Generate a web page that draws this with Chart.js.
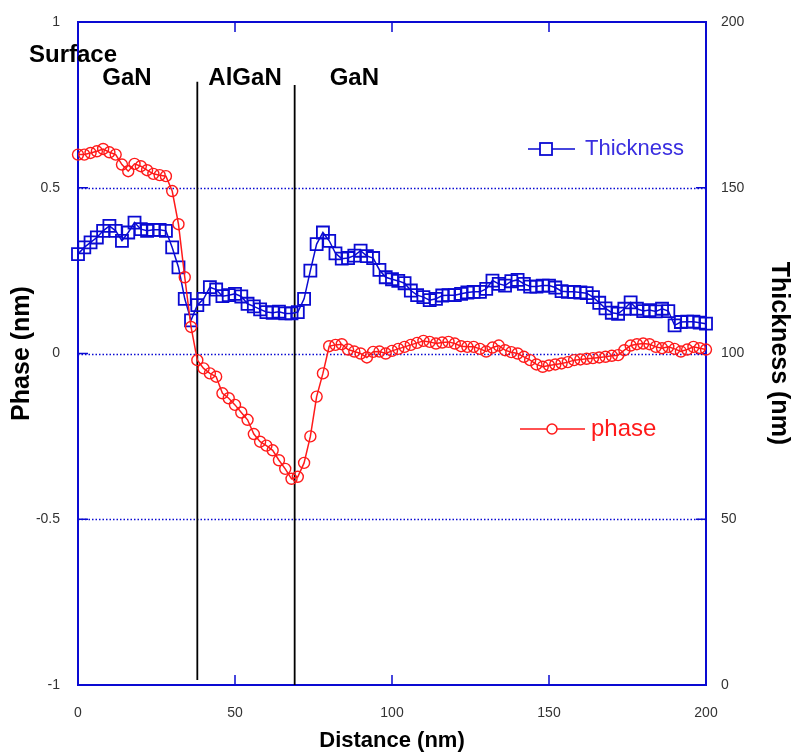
<!DOCTYPE html>
<html>
<head>
<meta charset="utf-8">
<script src="https://cdn.jsdelivr.net/npm/chart.js@4.4.1/dist/chart.umd.min.js"></script>
<style>
  body { margin: 0; background: #fff; }
  canvas { display: block; }
</style>
</head>
<body>
<canvas id="profile" width="794" height="755"></canvas>
<script>
// distance along the profile (nm)
const distance = [
  0, 2, 4, 6, 8, 10, 12, 14, 16, 18, 20, 22, 24, 26, 28, 30, 32, 34, 36, 38,
  40, 42, 44, 46, 48, 50, 52, 54, 56, 58, 60, 62, 64, 66, 68, 70, 72, 74, 76, 78,
  80, 82, 84, 86, 88, 90, 92, 94, 96, 98, 100, 102, 104, 106, 108, 110, 112, 114, 116, 118,
  120, 122, 124, 126, 128, 130, 132, 134, 136, 138, 140, 142, 144, 146, 148, 150, 152, 154, 156, 158,
  160, 162, 164, 166, 168, 170, 172, 174, 176, 178, 180, 182, 184, 186, 188, 190, 192, 194, 196, 198, 200
];

// thickness (nm), right axis
const thickness = [
  130, 132, 133.5, 135, 137, 138.5, 137, 134, 136.5, 139.5, 137.5, 137, 137.3, 137.3, 137, 132, 126, 116.5, 110, 114.6,
  116.5, 120, 119.3, 117.3, 117.6, 118, 117.2, 115, 114.2, 113.3, 112.5, 112.3, 112.6, 112.1, 112.1, 112.5, 116.5, 125, 133, 136.5,
  134, 130.2, 128.6, 128.8, 129.5, 131, 129.4, 128.8, 125.2, 123, 122.4, 121.9, 121.2, 119, 117.6, 117, 116.1, 116.5, 117.5, 117.6,
  117.6, 118, 118.4, 118.6, 118.6, 119.5, 122, 121, 120.5, 121.8, 122.2, 121, 120.2, 120.2, 120.5, 120.5, 119.9, 118.8, 118.6, 118.6,
  118.4, 118.2, 117, 115.3, 113.6, 112.3, 112, 113.5, 115.4, 113.5, 112.8, 113.1, 112.7, 113.5, 112.8, 108.5, 109.5, 109.6, 109.6, 109.3, 109
];

// phase (nm), left axis
const phase = [
  0.60, 0.60, 0.605, 0.61, 0.617, 0.607, 0.60, 0.57, 0.55, 0.572, 0.565, 0.553, 0.542, 0.538, 0.535, 0.49, 0.39, 0.23, 0.08, -0.02,
  -0.045, -0.06, -0.07, -0.12, -0.135, -0.155, -0.178, -0.2, -0.243, -0.266, -0.278, -0.292, -0.322, -0.348, -0.378, -0.372, -0.33, -0.25, -0.13, -0.06,
  0.022, 0.026, 0.028, 0.012, 0.006, 0.0, -0.012, 0.005, 0.006, 0.0, 0.008, 0.014, 0.02, 0.026, 0.032, 0.038, 0.035, 0.03, 0.033, 0.035,
  0.03, 0.022, 0.02, 0.02, 0.014, 0.006, 0.018, 0.024, 0.01, 0.004, 0.0, -0.01, -0.02, -0.033, -0.04, -0.036, -0.033, -0.03, -0.026, -0.02,
  -0.018, -0.016, -0.014, -0.012, -0.01, -0.007, -0.005, 0.01, 0.024, 0.028, 0.03, 0.028, 0.02, 0.016, 0.02, 0.014, 0.006, 0.012, 0.02, 0.016, 0.012
];

// layer boundaries (nm) and the phase range each line spans
const boundaryX = [38, 69];
const boundaryTop = [0.82, 0.81];
const boundaryBottom = [-0.985, -1];

const layerNames = ['GaN', 'AlGaN', 'GaN'];
const layerCenters = [15.6, 53.2, 88];

const BLUE = '#0a0ad2';
const RED = '#ff1a1a';
const TICK_FONT = { family: "'Liberation Sans', Arial, sans-serif", size: 14 };
const TITLE_FAMILY = "'Liberation Sans', Arial, sans-serif";

function pairs(xs, ys) {
  return xs.map((x, i) => ({ x: x, y: ys[i] }));
}

const boundarySets = boundaryX.map((bx, i) => ({
  label: 'boundary' + i,
  data: [{ x: bx, y: boundaryTop[i] }, { x: bx, y: boundaryBottom[i] }],
  yAxisID: 'yP',
  borderColor: '#000',
  borderWidth: 1.8,
  pointRadius: 0,
  order: 3
}));

const decor = {
  id: 'decor',
  beforeDatasetsDraw(chart) {
    const { ctx, chartArea: a, scales } = chart;
    ctx.save();
    // dotted reference lines at the inner phase ticks
    ctx.strokeStyle = BLUE;
    ctx.lineWidth = 1.3;
    ctx.setLineDash([1.5, 2]);
    ctx.beginPath();
    [-0.5, 0, 0.5].forEach(v => {
      const py = Math.round(scales.yP.getPixelForValue(v)) + 0.5;
      ctx.moveTo(a.left, py); ctx.lineTo(a.right, py);
    });
    ctx.stroke();
    ctx.setLineDash([]);

    ctx.lineWidth = 1.5;
    ctx.beginPath();
    [50, 100, 150].forEach(v => {
      const px = scales.x.getPixelForValue(v);
      ctx.moveTo(px, a.bottom); ctx.lineTo(px, a.bottom - 10);
      ctx.moveTo(px, a.top); ctx.lineTo(px, a.top + 10);
    });
    [-0.5, 0, 0.5].forEach(v => {
      const py = scales.yP.getPixelForValue(v);
      ctx.moveTo(a.left, py); ctx.lineTo(a.left + 10, py);
      ctx.moveTo(a.right, py); ctx.lineTo(a.right - 10, py);
    });
    ctx.stroke();
    ctx.lineWidth = 2;
    ctx.strokeRect(a.left, a.top, a.right - a.left, a.bottom - a.top);
    ctx.restore();
  },
  afterDatasetsDraw(chart) {
    const { ctx, scales } = chart;
    ctx.save();
    ctx.fillStyle = '#000';
    ctx.textAlign = 'center';
    ctx.textBaseline = 'middle';
    ctx.font = 'bold 24px ' + TITLE_FAMILY;
    ctx.fillText('Surface', 73, 55);
    const ly = scales.yP.getPixelForValue(0.83);
    layerNames.forEach((name, i) => {
      ctx.fillText(name, scales.x.getPixelForValue(layerCenters[i]), ly);
    });

    // legend entries
    ctx.lineWidth = 1.5;
    ctx.strokeStyle = BLUE;
    ctx.beginPath();
    ctx.moveTo(528, 149); ctx.lineTo(540, 149);
    ctx.moveTo(552, 149); ctx.lineTo(575, 149);
    ctx.stroke();
    ctx.lineWidth = 1.8;
    ctx.strokeRect(540, 143, 12, 12);
    ctx.fillStyle = '#3a2ee0';
    ctx.textAlign = 'left';
    ctx.font = '22px ' + TITLE_FAMILY;
    ctx.fillText('Thickness', 585, 149);

    ctx.strokeStyle = RED;
    ctx.lineWidth = 1.5;
    ctx.beginPath();
    ctx.moveTo(520, 429); ctx.lineTo(547, 429);
    ctx.moveTo(557, 429); ctx.lineTo(585, 429);
    ctx.stroke();
    ctx.beginPath();
    ctx.arc(552, 429, 5, 0, Math.PI * 2);
    ctx.stroke();
    ctx.fillStyle = RED;
    ctx.font = '24px ' + TITLE_FAMILY;
    ctx.fillText('phase', 591, 429);
    ctx.restore();
  }
};

function fitY(width) {
  return scale => {
    scale.width = width;
    scale.paddingTop = 0;
    scale.paddingBottom = 0;
  };
}

new Chart(document.getElementById('profile'), {
  type: 'line',
  data: {
    datasets: [
      {
        label: 'phase',
        data: pairs(distance, phase),
        yAxisID: 'yP',
        borderColor: RED,
        borderWidth: 1.5,
        pointStyle: 'circle',
        pointRadius: 5.5,
        pointBorderWidth: 1.4,
        pointBorderColor: RED,
        pointBackgroundColor: 'rgba(0,0,0,0)',
        clip: false,
        order: 1
      },
      {
        label: 'Thickness',
        data: pairs(distance, thickness),
        yAxisID: 'yT',
        borderColor: BLUE,
        borderWidth: 1.5,
        pointStyle: 'rect',
        pointRadius: 8.5,
        pointBorderWidth: 1.8,
        pointBorderColor: BLUE,
        pointBackgroundColor: 'rgba(0,0,0,0)',
        clip: false,
        order: 2
      },
      ...boundarySets
    ]
  },
  options: {
    responsive: false,
    animation: false,
    layout: { padding: { top: 22 } },
    plugins: {
      legend: { display: false },
      tooltip: { enabled: false }
    },
    scales: {
      x: {
        type: 'linear',
        min: 0,
        max: 200,
        ticks: { stepSize: 50, font: TICK_FONT, color: '#333', padding: 20 },
        grid: { display: false, drawTicks: false },
        border: { display: false },
        title: {
          display: true,
          text: 'Distance (nm)',
          color: '#000',
          font: { family: TITLE_FAMILY, size: 22, weight: 'bold' },
          padding: { top: 0, bottom: 1 }
        },
        afterFit(scale) {
          scale.height = 70;
          scale.paddingLeft = 0;
          scale.paddingRight = 0;
        }
      },
      yP: {
        type: 'linear',
        position: 'left',
        min: -1,
        max: 1,
        ticks: { stepSize: 0.5, font: TICK_FONT, color: '#333', padding: 18, callback: v => String(v) },
        grid: { display: false, drawTicks: false },
        border: { display: false },
        title: {
          display: true,
          text: 'Phase (nm)',
          color: '#000',
          font: { family: TITLE_FAMILY, size: 25, weight: 'bold' },
          padding: { top: 7, bottom: 0 }
        },
        afterFit: fitY(78)
      },
      yT: {
        type: 'linear',
        position: 'right',
        min: 0,
        max: 200,
        ticks: { stepSize: 50, font: TICK_FONT, color: '#333', padding: 15 },
        grid: { display: false, drawTicks: false },
        border: { display: false },
        title: {
          display: true,
          text: 'Thickness (nm)',
          color: '#000',
          font: { family: TITLE_FAMILY, size: 25, weight: 'bold' },
          padding: { top: 0, bottom: 0 }
        },
        afterFit: fitY(88)
      }
    }
  },
  plugins: [decor]
});
</script>
</body>
</html>
